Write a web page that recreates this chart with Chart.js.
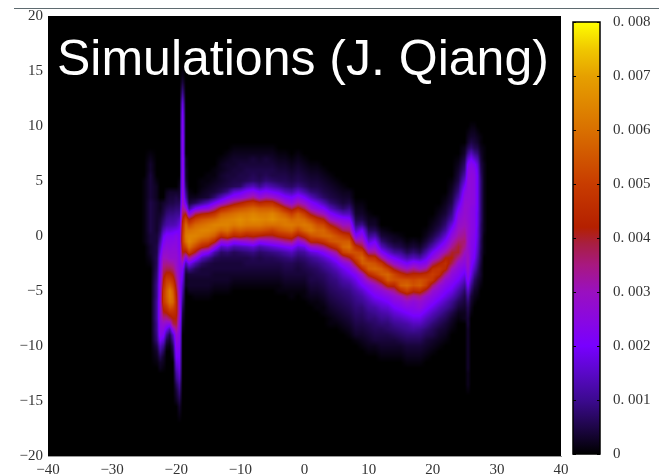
<!DOCTYPE html>
<html>
<head>
<meta charset="utf-8">
<title>Simulations (J. Qiang)</title>
<script src="https://cdn.jsdelivr.net/npm/chart.js@4"></script>
<style>
    html, body { margin: 0; padding: 0; background: #fff; }
    #wrap { position: relative; width: 659px; height: 476px; overflow: hidden; }
    #topLine { position: absolute; left: 14px; right: 0; top: 8px; height: 1px; background: #5f6b70; }
    #mainChart { position: absolute; left: 0; top: 0; }
    #barChart { position: absolute; left: 560px; top: 0; }
    #caption {
        position: absolute; left: 57px; top: 30px; color: #fff; white-space: nowrap;
        font: 50px/56px "Liberation Sans", Arial, sans-serif;
    }
</style>
</head>
<body>
<div id="wrap">
    <div id="topLine"></div>
    <canvas id="mainChart" width="659" height="476"></canvas>
    <canvas id="barChart" width="99" height="476"></canvas>
    <div id="caption">Simulations (J. Qiang)</div>
</div>
<script>
// x ticks, y ticks, colorbar ticks
const xTicks = ['\u221240', '\u221230', '\u221220', '\u221210', '0', '10', '20', '30', '40'];
const yTicks = ['20', '15', '10', '5', '0', '\u22125', '\u221210', '\u221215', '\u221220'];
const barTicks = ['0.\u00a0008', '0.\u00a0007', '0.\u00a0006', '0.\u00a0005', '0.\u00a0004', '0.\u00a0003', '0.\u00a0002', '0.\u00a0001', '0'];

// colorbar: value, colour
const mapValues = [0, 0.0005, 0.001, 0.0015, 0.002, 0.0025, 0.003, 0.0035, 0.0039, 0.0042, 0.005, 0.006, 0.007, 0.0075, 0.008];
const mapColors = ['#000000', '#1e0648', '#3c0a90', '#5a08c8', '#7800ff', '#8a08e0', '#9a10c0', '#a81880', '#a81f40', '#b42000', '#c83c00', '#d97000', '#e6a000', '#f0c800', '#ffff00'];

// density columns: x position, y of the first entry, then values every 0.5 going down (unit 0.0001)
const columnX = [-25.5, -25, -24, -23, -22.5, -22, -21.5, -21, -20.5, -20, -19.5, -19, -18.5, -18, -17, -16, -15, -14, -13, -12, -11, -10, -9, -8, -7, -6, -5, -4, -3, -2, -1, 0, 1, 2, 3, 4, 5, 6, 7, 8, 9, 10, 11, 12, 13, 14, 15, 16, 17, 18, 19, 20, 21, 22, 23, 24, 25, 25.5, 26, 26.5, 27, 27.5, 28, 28.5];
const columnTop = [0, 5, 7.5, 5, 3, 3, 4, 4, 4, 4, 5, 15, 7, 4, 3.5, 5, 5.5, 6, 7, 7.5, 8, 8, 8, 8, 8, 8, 8, 7.5, 7.5, 7, 7.5, 7, 6.5, 6.5, 6, 5.5, 5, 4.5, 4, 3, 3, 2, 1.5, 0.5, 0.5, 0, 0, -0.5, -0.5, -0.5, 0.5, 1.5, 2.5, 3.5, 5, 7, 8, 9.5, 10, 10, 9.5, 9, 8, 0];
const columnValues = [
    [],
    [1, 1, 1, 1, 1, 1, 1, 1, 1, 1, 1, 1],
    [1, 2, 3, 3, 4, 4, 4, 4, 4, 5, 5, 5, 5, 5, 5, 4, 4, 3, 3, 2, 1],
    [1, 2, 2, 2, 3, 3, 3, 3, 3, 3, 4, 4, 5, 5, 6, 6, 7, 8, 9, 10, 10, 10, 11, 11, 11, 11, 10, 10, 9, 8, 5, 3, 2, 1],
    [2, 2, 3, 4, 5, 6, 8, 11, 14, 17, 20, 21, 22, 23, 24, 25, 25, 26, 27, 27, 27, 27, 26, 25, 24, 20, 14, 10, 6, 3, 2],
    [3, 4, 5, 7, 9, 13, 18, 21, 24, 27, 30, 33, 36, 39, 42, 45, 48, 49, 48, 44, 40, 34, 28, 25, 22, 16, 10, 6, 3, 2, 1],
    [2, 3, 4, 6, 8, 10, 12, 17, 22, 24, 26, 28, 30, 34, 38, 44, 50, 53, 56, 56, 54, 48, 42, 34, 26, 18, 10, 5, 2],
    [3, 4, 5, 7, 9, 11, 13, 17, 22, 24, 25, 27, 28, 33, 38, 44, 50, 56, 62, 62, 60, 54, 46, 38, 25, 12, 5, 3, 1],
    [3, 4, 5, 7, 9, 11, 13, 18, 22, 24, 26, 27, 28, 32, 36, 41, 46, 51, 56, 58, 58, 52, 46, 42, 38, 26, 14, 10, 6, 4, 2],
    [3, 5, 6, 8, 10, 12, 14, 19, 24, 25, 26, 27, 28, 29, 30, 33, 36, 39, 42, 44, 46, 45, 44, 42, 40, 34, 28, 26, 24, 22, 20, 17, 14, 11, 9, 6, 4, 3, 2],
    [1, 2, 3, 4, 6, 8, 10, 14, 17, 20, 21, 22, 22, 23, 24, 24, 25, 25, 26, 26, 27, 28, 28, 29, 30, 28, 26, 25, 24, 23, 22, 21, 20, 19, 18, 16, 14, 11, 9, 7, 5, 3, 2, 1],
    [1, 2, 4, 7, 10, 14, 18, 20, 22, 23, 24, 24, 25, 25, 25, 25, 26, 26, 26, 27, 27, 27, 28, 29, 30, 34, 38, 42, 46, 48, 50, 50, 46, 42, 36, 28, 22, 19, 17, 14, 12, 10, 8, 6, 4, 3, 2, 1],
    [2, 2, 3, 3, 4, 6, 9, 12, 18, 28, 42, 52, 58, 60, 62, 60, 52, 40, 24, 12, 6, 3, 2, 2],
    [1, 2, 4, 10, 24, 42, 52, 60, 64, 65, 60, 50, 34, 20, 10, 4, 3, 3, 2],
    [2, 6, 20, 38, 50, 58, 62, 64, 60, 52, 40, 24, 12, 6, 4, 3, 3, 2, 1],
    [1, 1, 2, 3, 10, 24, 42, 54, 60, 64, 62, 54, 44, 26, 14, 7, 4, 4, 3, 3, 2, 1],
    [1, 1, 2, 3, 4, 14, 26, 44, 56, 62, 64, 60, 52, 40, 22, 10, 5, 4, 4, 3, 3, 2, 1],
    [1, 1, 2, 3, 4, 8, 20, 34, 48, 58, 64, 62, 56, 44, 26, 12, 6, 4, 4, 3, 3, 2, 1],
    [1, 2, 2, 3, 3, 4, 6, 14, 26, 44, 56, 62, 64, 58, 46, 28, 14, 7, 5, 4, 4, 3, 3, 2, 1],
    [1, 2, 3, 3, 4, 4, 5, 9, 20, 32, 48, 58, 63, 64, 60, 50, 30, 16, 8, 5, 4, 4, 3, 3, 2, 1],
    [1, 2, 3, 3, 4, 4, 5, 6, 16, 24, 38, 52, 60, 64, 62, 54, 44, 24, 12, 6, 5, 4, 4, 3, 2, 1],
    [1, 2, 3, 4, 4, 5, 5, 7, 18, 26, 42, 54, 62, 66, 64, 56, 46, 26, 13, 7, 5, 4, 4, 3, 2, 1],
    [1, 2, 3, 4, 5, 5, 6, 12, 22, 30, 46, 56, 62, 64, 62, 54, 42, 28, 14, 8, 5, 5, 4, 3, 2, 1],
    [1, 2, 4, 4, 5, 6, 7, 14, 24, 34, 48, 58, 64, 66, 62, 54, 44, 30, 16, 9, 6, 5, 4, 3, 2, 1],
    [1, 2, 3, 4, 5, 5, 6, 10, 20, 28, 44, 56, 62, 65, 62, 54, 42, 24, 12, 7, 5, 5, 4, 3, 2, 1],
    [1, 2, 4, 4, 5, 6, 8, 14, 22, 32, 46, 56, 62, 64, 60, 52, 40, 26, 14, 8, 6, 5, 4, 3, 2, 1],
    [1, 2, 3, 4, 5, 5, 7, 12, 20, 30, 46, 56, 64, 66, 60, 50, 40, 28, 16, 9, 6, 5, 4, 3, 2, 1],
    [1, 2, 3, 4, 5, 6, 10, 18, 26, 38, 52, 60, 63, 60, 54, 44, 30, 18, 10, 7, 5, 4, 3, 2, 1, 1],
    [1, 2, 3, 4, 5, 6, 8, 14, 22, 30, 44, 56, 62, 62, 56, 46, 34, 20, 12, 8, 6, 5, 4, 3, 2, 1],
    [1, 2, 3, 4, 5, 7, 12, 20, 26, 38, 50, 58, 62, 58, 48, 36, 22, 14, 9, 6, 5, 4, 3, 2, 1, 1],
    [1, 2, 3, 4, 5, 6, 9, 16, 24, 32, 44, 56, 60, 60, 52, 40, 26, 16, 10, 7, 5, 4, 4, 3, 2, 1],
    [1, 2, 3, 4, 5, 7, 12, 20, 28, 38, 50, 58, 62, 58, 46, 32, 18, 11, 8, 6, 5, 4, 3, 2, 1, 1],
    [1, 2, 3, 4, 5, 8, 14, 22, 28, 40, 52, 60, 62, 54, 44, 28, 16, 10, 8, 6, 5, 5, 4, 3, 2, 1],
    [1, 2, 3, 4, 5, 7, 10, 18, 24, 34, 46, 54, 58, 56, 44, 30, 18, 12, 9, 7, 6, 5, 4, 3, 2, 1, 1],
    [1, 2, 3, 4, 5, 7, 13, 21, 30, 42, 52, 58, 58, 48, 34, 22, 15, 11, 9, 7, 6, 5, 4, 3, 2, 1, 1],
    [1, 2, 3, 4, 5, 8, 14, 22, 30, 42, 52, 58, 54, 42, 28, 19, 14, 11, 9, 8, 7, 6, 5, 4, 3, 2, 1, 1],
    [1, 2, 3, 4, 6, 10, 18, 26, 36, 46, 54, 56, 48, 34, 24, 18, 14, 11, 9, 8, 7, 6, 5, 4, 3, 2, 1],
    [1, 2, 3, 4, 7, 14, 24, 30, 38, 50, 56, 58, 50, 34, 24, 18, 15, 12, 10, 8, 7, 6, 5, 4, 3, 2, 1],
    [2, 3, 5, 9, 14, 22, 30, 36, 46, 56, 60, 54, 40, 28, 22, 18, 14, 11, 9, 8, 7, 6, 5, 4, 3, 2, 1],
    [1, 2, 3, 5, 8, 14, 22, 34, 46, 54, 52, 42, 30, 22, 18, 15, 12, 10, 9, 8, 7, 6, 5, 4, 3, 1],
    [1, 2, 3, 5, 10, 20, 26, 32, 40, 52, 58, 56, 44, 30, 24, 20, 15, 12, 10, 8, 7, 6, 5, 4, 3, 2, 1],
    [1, 2, 3, 6, 10, 16, 24, 34, 48, 56, 56, 44, 32, 24, 20, 16, 13, 11, 9, 8, 6, 5, 4, 3, 2, 1],
    [2, 3, 6, 12, 20, 26, 34, 46, 54, 58, 50, 38, 28, 24, 20, 16, 12, 10, 8, 7, 6, 5, 4, 2, 1],
    [2, 4, 8, 14, 22, 34, 48, 56, 56, 46, 34, 26, 22, 18, 15, 12, 10, 8, 6, 5, 4, 3, 2, 1],
    [1, 3, 5, 9, 16, 24, 36, 50, 58, 56, 44, 30, 24, 20, 16, 13, 10, 8, 7, 5, 4, 3, 2, 1],
    [2, 3, 6, 11, 20, 28, 40, 52, 54, 44, 34, 27, 24, 20, 16, 13, 10, 8, 6, 4, 3, 2, 1],
    [1, 3, 5, 10, 16, 24, 34, 46, 54, 56, 44, 30, 25, 22, 18, 14, 11, 9, 7, 5, 3, 2, 1],
    [1, 3, 6, 12, 20, 30, 42, 54, 58, 50, 36, 28, 24, 20, 16, 12, 10, 8, 6, 4, 3, 2, 1],
    [2, 4, 8, 14, 24, 34, 44, 52, 54, 44, 32, 26, 24, 22, 18, 14, 11, 8, 6, 4, 3, 2, 1],
    [1, 3, 6, 12, 22, 30, 44, 54, 56, 46, 34, 28, 26, 22, 18, 14, 10, 8, 6, 4, 3, 2, 1],
    [1, 2, 4, 7, 12, 18, 24, 34, 46, 52, 50, 38, 28, 25, 22, 18, 14, 11, 8, 6, 4, 3, 2, 1],
    [1, 2, 3, 5, 8, 13, 20, 26, 36, 46, 50, 48, 36, 28, 25, 22, 18, 14, 11, 8, 6, 5, 3, 2, 1],
    [1, 2, 3, 4, 6, 9, 14, 20, 26, 32, 42, 48, 46, 36, 28, 25, 22, 18, 14, 11, 8, 6, 4, 3, 2, 1],
    [1, 2, 3, 4, 6, 8, 11, 16, 21, 26, 32, 42, 46, 44, 34, 27, 24, 21, 18, 14, 11, 8, 6, 4, 3, 2, 1],
    [1, 2, 3, 4, 5, 7, 9, 12, 17, 22, 26, 30, 34, 40, 42, 38, 30, 26, 24, 21, 18, 14, 10, 8, 5, 3, 2, 1],
    [1, 2, 3, 4, 5, 7, 9, 12, 16, 20, 24, 26, 28, 30, 32, 36, 40, 40, 34, 28, 25, 23, 20, 16, 12, 9, 6, 4, 2, 1],
    [2, 3, 5, 7, 9, 12, 16, 20, 24, 26, 27, 28, 28, 29, 30, 32, 34, 36, 34, 30, 27, 25, 22, 18, 14, 10, 7, 5, 4, 3, 2, 2],
    [1, 2, 3, 6, 10, 16, 22, 24, 25, 26, 26, 26, 26, 27, 27, 27, 27, 28, 28, 28, 28, 28, 29, 30, 30, 28, 26, 24, 20, 15, 11, 8, 6, 5, 4, 4, 3, 3, 3, 3, 3, 3, 3, 3, 2, 2, 2, 1],
    [1, 2, 3, 5, 8, 14, 20, 24, 25, 26, 26, 26, 26, 26, 26, 25, 25, 25, 25, 25, 25, 24, 24, 24, 23, 22, 20, 18, 14, 10, 7, 4, 3, 2, 1],
    [1, 2, 3, 4, 6, 10, 16, 22, 24, 25, 25, 25, 25, 25, 25, 24, 24, 24, 24, 24, 23, 23, 22, 21, 20, 17, 14, 10, 7, 5, 3, 2, 1],
    [1, 2, 3, 5, 8, 12, 16, 18, 19, 19, 19, 19, 19, 19, 19, 18, 18, 18, 17, 17, 16, 15, 14, 12, 10, 8, 6, 4, 3, 2, 1],
    [1, 1, 2, 3, 4, 5, 6, 7, 8, 8, 8, 8, 8, 8, 8, 8, 7, 7, 7, 6, 6, 5, 5, 4, 3, 3, 2, 1],
    [1, 1, 1, 2, 2, 2, 2, 2, 2, 2, 2, 2, 2, 2, 2, 2, 1, 1, 1, 1],
    []
];

const serifFont = { family: '"Liberation Serif", serif', size: 15 };
const tickColor = '#333';

function hexToRgb(hex) {
    return [1, 3, 5].map(i => parseInt(hex.slice(i, i + 2), 16));
}
const mapRgb = mapColors.map(hexToRgb);

function colorFor(v) {
    if (v <= 0) return mapRgb[0];
    let i = 1;
    while (i < mapValues.length - 1 && v > mapValues[i]) i++;
    const t = Math.min(1, (v - mapValues[i - 1]) / (mapValues[i] - mapValues[i - 1]));
    return mapRgb[i].map((c, k) => mapRgb[i - 1][k] + (c - mapRgb[i - 1][k]) * t);
}

// value of one column at height y
function columnAt(col, y) {
    const vals = columnValues[col];
    const pos = (columnTop[col] - y) / 0.5;
    if (pos < -1 || pos > vals.length) return 0;
    const i = Math.floor(pos);
    const a = i >= 0 && i < vals.length ? vals[i] : 0;
    const b = i + 1 >= 0 && i + 1 < vals.length ? vals[i + 1] : 0;
    return a + (b - a) * (pos - i);
}

function densityAt(x, y) {
    if (x <= columnX[0] || x >= columnX[columnX.length - 1]) return 0;
    let c = 0;
    while (columnX[c + 1] < x) c++;
    const t = (x - columnX[c]) / (columnX[c + 1] - columnX[c]);
    return (columnAt(c, y) * (1 - t) + columnAt(c + 1, y) * t) * 0.0001;
}

const cells = [];
columnValues.forEach((vals, c) => {
    vals.forEach((v, r) => cells.push({ x: columnX[c], y: columnTop[c] - r * 0.5, v: v * 0.0001 }));
});

// paints the density map in the plot area, positions come from the scales
const heatPlugin = {
    id: 'heat',
    beforeDatasetsDraw(chart) {
        const { ctx, chartArea: a, scales: { x: xs, y: ys } } = chart;
        const w = Math.round(a.right - a.left);
        const h = Math.round(a.bottom - a.top);
        const img = ctx.createImageData(w, h);
        for (let py = 0; py < h; py++) {
            const y = ys.getValueForPixel(a.top + py + 0.5);
            for (let px = 0; px < w; px++) {
                const x = xs.getValueForPixel(a.left + px + 0.5);
                const rgb = colorFor(densityAt(x, y));
                const o = (py * w + px) * 4;
                img.data[o] = rgb[0];
                img.data[o + 1] = rgb[1];
                img.data[o + 2] = rgb[2];
                img.data[o + 3] = 255;
            }
        }
        ctx.putImageData(img, Math.round(a.left), Math.round(a.top));
    }
};

new Chart(document.getElementById('mainChart'), {
    type: 'scatter',
    data: { datasets: [{ label: 'density', data: cells, pointRadius: 0 }] },
    options: {
        responsive: false,
        animation: false,
        layout: { padding: { top: 16, right: 98, left: 0, bottom: 0 } },
        plugins: { legend: { display: false }, tooltip: { enabled: false } },
        scales: {
            x: {
                type: 'linear', min: -40, max: 40,
                grid: { display: false, drawTicks: false },
                border: { color: '#999', width: 1 },
                afterFit: s => { s.height = 20; },
                afterBuildTicks: s => { s.ticks = xTicks.map((_, i) => ({ value: -40 + i * 10 })); },
                ticks: {
                    autoSkip: false, maxRotation: 0, padding: 5, color: tickColor, font: serifFont,
                    callback: (v, i) => xTicks[i]
                }
            },
            y: {
                type: 'linear', min: -20, max: 20,
                grid: { display: false, drawTicks: false },
                border: { color: '#999', width: 1 },
                afterFit: s => { s.width = 48; },
                afterBuildTicks: s => { s.ticks = yTicks.map((_, i) => ({ value: -20 + i * 5 })); },
                ticks: {
                    autoSkip: false, padding: 5, color: tickColor, font: serifFont,
                    callback: (v, i) => yTicks[yTicks.length - 1 - i]
                }
            }
        }
    },
    plugins: [heatPlugin]
});

// colorbar frame and the small inner ticks
const barFramePlugin = {
    id: 'barFrame',
    afterDatasetsDraw(chart) {
        const { ctx, chartArea: a, scales: { y } } = chart;
        ctx.save();
        ctx.strokeStyle = '#000';
        ctx.lineWidth = 1.5;
        ctx.strokeRect(a.left, a.top, a.right - a.left, a.bottom - a.top);
        ctx.lineWidth = 1;
        barTicks.forEach((_, i) => {
            const py = Math.round(y.getPixelForValue(0.008 - i * 0.001)) + 0.5;
            ctx.beginPath();
            ctx.moveTo(a.left, py);
            ctx.lineTo(a.left + 3, py);
            ctx.moveTo(a.right - 3, py);
            ctx.lineTo(a.right, py);
            ctx.stroke();
        });
        ctx.restore();
    }
};

new Chart(document.getElementById('barChart'), {
    type: 'bar',
    data: {
        labels: ['density'],
        datasets: [{
            data: [0.008],
            barPercentage: 1,
            categoryPercentage: 1,
            backgroundColor: c => {
                const { chart } = c;
                if (!chart.chartArea) return '#000';
                const ys = chart.scales.y;
                const g = chart.ctx.createLinearGradient(0, ys.getPixelForValue(0), 0, ys.getPixelForValue(0.008));
                mapValues.forEach((v, i) => g.addColorStop(v / 0.008, mapColors[i]));
                return g;
            }
        }]
    },
    options: {
        responsive: false,
        animation: false,
        layout: { padding: { top: 16, bottom: 21, left: 13, right: 0 } },
        plugins: { legend: { display: false }, tooltip: { enabled: false } },
        scales: {
            x: { display: false },
            y: {
                position: 'right', min: 0, max: 0.008,
                grid: { display: false, drawTicks: false },
                border: { display: false },
                afterFit: s => { s.width = 59; },
                afterBuildTicks: s => { s.ticks = barTicks.map((_, i) => ({ value: i * 0.001 })); },
                ticks: {
                    autoSkip: false, padding: 13, color: tickColor, font: serifFont,
                    callback: (v, i) => barTicks[barTicks.length - 1 - i]
                }
            }
        }
    },
    plugins: [barFramePlugin]
});
</script>
</body>
</html>
